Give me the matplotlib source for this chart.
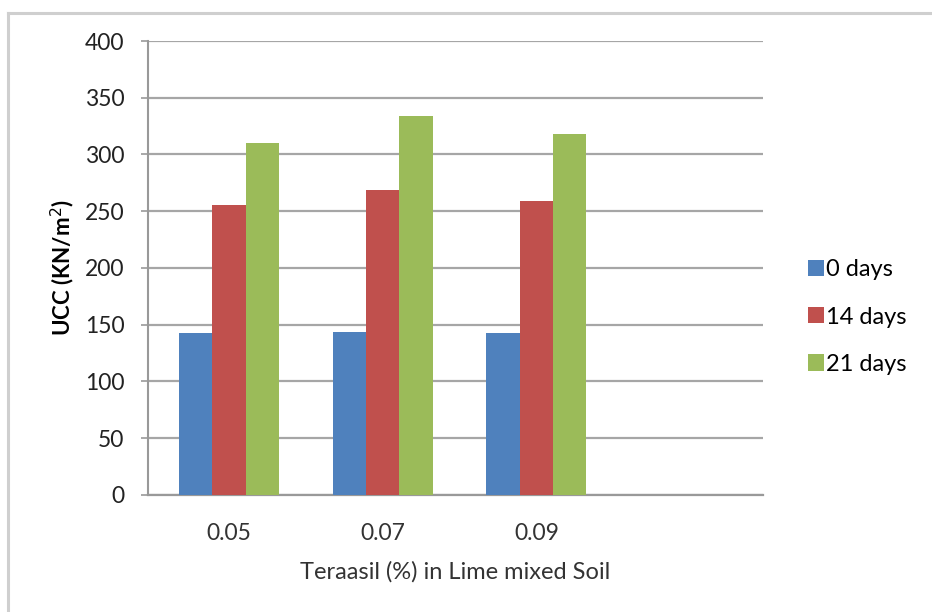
import matplotlib
matplotlib.use("Agg")
import matplotlib.pyplot as plt
from matplotlib.lines import Line2D
import numpy as np

# Teraasil dosage in lime-mixed soil and UCC after curing
categories = ["0.05", "0.07", "0.09", ""]
ucc_0_days = [142.5, 144.0, 142.5]
ucc_14_days = [255.5, 268.5, 259.0]
ucc_21_days = [310.0, 334.0, 318.0]
series_names = ["0 days", "14 days", "21 days"]
colors = ["#4F81BD", "#C0504D", "#9BBB59"]

plt.rcParams["font.family"] = ["Lato", "DejaVu Sans"]

fig = plt.figure(figsize=(9.32, 6.12), dpi=100)
ax = fig.add_axes([0.1588, 0.1912, 0.6599, 0.7418])

x = np.arange(len(ucc_0_days))
w = 0.217
for i, (vals, name, c) in enumerate(zip([ucc_0_days, ucc_14_days, ucc_21_days], series_names, colors)):
    ax.bar(x + (i - 1) * w, vals, width=w, color=c, label=name, zorder=3)

ax.set_xlim(-0.526, len(categories) - 0.526)
ax.set_ylim(0, 400)
ax.set_yticks(range(0, 401, 50))
ax.set_xticks(range(len(categories)))
ax.set_xticklabels(categories, fontsize=16.5, color="#333333")
ax.tick_params(axis="x", length=0, pad=20)
ax.tick_params(axis="y", length=5, width=1.2, color="#999999", pad=12,
               labelsize=16.5, labelcolor="#222222")

ax.yaxis.grid(True, color="#A6A6A6", lw=1.6, zorder=0)
for s in ["top", "right"]:
    ax.spines[s].set_visible(False)
ax.spines["left"].set_color("#999999")
ax.spines["left"].set_linewidth(1.5)
ax.spines["bottom"].set_color("#999999")
ax.spines["bottom"].set_linewidth(1.6)

ax.set_ylabel("UCC (KN/m$^2$)", fontsize=16, fontweight="bold")
ax.yaxis.set_label_coords(-0.116, 0.5)
ax.set_xlabel("Teraasil (%) in Lime mixed Soil", fontsize=17, color="#333333")
ax.xaxis.set_label_coords(0.5, -0.146)

fig.legend(*ax.get_legend_handles_labels(), loc="center left",
           bbox_to_anchor=(808 / 932, 1 - 317 / 612), frameon=False,
           fontsize=17, handlelength=0.68, handleheight=0.68, handletextpad=0.1,
           labelspacing=1.11, borderpad=0, borderaxespad=0)

# outer chart frame
fig.add_artist(Line2D([8 / 932, 1], [1 - 13 / 612, 1 - 13 / 612], color="#CFCFCF", lw=2.2))
fig.add_artist(Line2D([8 / 932, 8 / 932], [0, 1 - 13 / 612], color="#CFCFCF", lw=2.2))

fig.savefig("out.png", dpi=100)
